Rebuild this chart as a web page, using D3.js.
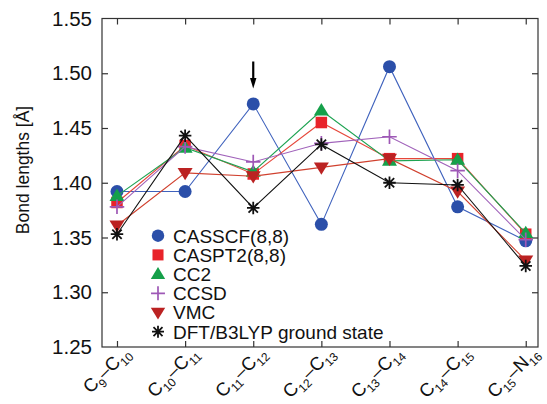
<!DOCTYPE html>
<html>
<head>
<meta charset="utf-8">
<script src="https://cdn.jsdelivr.net/npm/d3@7/dist/d3.min.js"></script>
<style>
  html, body { margin: 0; padding: 0; background: #fff; }
  svg { display: block; font-family: "Liberation Sans", Arial, Helvetica, sans-serif; }
</style>
</head>
<body>
<svg id="chart" width="547" height="404"></svg>
<script>
// Bond labels along the retinal chain
const bonds = ["C9–C10", "C10–C11", "C11–C12", "C12–C13", "C13–C14", "C14–C15", "C15–N16"];

// Bond lengths in Å per method
const casscf = [1.392, 1.392, 1.472, 1.362, 1.506, 1.378, 1.347];
const caspt2 = [1.382, 1.434, 1.408, 1.455, 1.422, 1.422, 1.353];
const cc2    = [1.388, 1.432, 1.410, 1.466, 1.420, 1.421, 1.354];
const ccsd   = [1.378, 1.433, 1.419, 1.436, 1.442, 1.411, 1.348];
const vmc    = [1.361, 1.409, 1.406, 1.414, 1.422, 1.392, 1.329];
const dft    = [1.353, 1.443, 1.377, 1.435, 1.400, 1.398, 1.324];

const methodNames = ["CASSCF(8,8)", "CASPT2(8,8)", "CC2", "CCSD", "VMC", "DFT/B3LYP ground state"];
const yTicks = [1.25, 1.30, 1.35, 1.40, 1.45, 1.50, 1.55];
const markedBond = 2; // bond flagged with the arrow

const series = [
  { name: methodNames[0], values: casscf, color: "#2b4fa9", line: "#3f62bd", shape: "circle" },
  { name: methodNames[1], values: caspt2, color: "#e8232a", line: "#e6473a", shape: "square" },
  { name: methodNames[2], values: cc2,    color: "#15a04a", line: "#1ea352", shape: "triUp" },
  { name: methodNames[3], values: ccsd,   color: "#9e58b6", line: "#a062ba", shape: "plus" },
  { name: methodNames[4], values: vmc,    color: "#bb2222", line: "#d0402e", shape: "triDown" },
  { name: methodNames[5], values: dft,    color: "#111111", line: "#111111", shape: "star" }
];

const svg = d3.select("#chart");
const plotL = 102, plotR = 538, plotT = 18.5, plotB = 347;

const x = d3.scaleLinear().domain([-0.22, 6.18]).range([plotL, plotR]);
const y = d3.scaleLinear().domain([1.25, 1.55]).range([plotB, plotT]);

const frameColor = "#333";

// Axes with inward ticks on all four sides
const gL = svg.append("g").attr("transform", `translate(${plotL},0)`)
  .call(d3.axisLeft(y).tickValues(yTicks).tickSize(-6).tickPadding(10).tickFormat(d3.format(".2f")));
const gR = svg.append("g").attr("transform", `translate(${plotR},0)`)
  .call(d3.axisRight(y).tickValues(yTicks.slice(1, -1)).tickSize(-6).tickFormat(""));
const gB = svg.append("g").attr("transform", `translate(0,${plotB})`)
  .call(d3.axisBottom(x).tickValues(d3.range(bonds.length)).tickSize(-6).tickFormat(""));
const gT = svg.append("g").attr("transform", `translate(0,${plotT})`)
  .call(d3.axisTop(x).tickValues(d3.range(bonds.length)).tickSize(-6).tickFormat(""));

gL.selectAll(".tick line").filter(d => d === 1.25 || d === 1.55).remove();
[gL, gR, gB, gT].forEach(g => {
  g.select(".domain").remove();
  g.selectAll(".tick line").attr("stroke", frameColor).attr("stroke-width", 1.2);
});
gL.selectAll(".tick text").attr("font-size", 20.5).attr("fill", "#111")
  .attr("font-family", "Liberation Sans, Arial, sans-serif");

svg.append("rect")
  .attr("x", plotL).attr("y", plotT)
  .attr("width", plotR - plotL).attr("height", plotB - plotT)
  .attr("fill", "none").attr("stroke", frameColor).attr("stroke-width", 1.2);

// Rotated bond labels with subscripted atom indices
const xLabels = svg.append("g");
bonds.forEach((lab, i) => {
  const holder = xLabels.append("g")
    .attr("transform", `translate(${x(i) + 14},${plotB + 7}) rotate(-45)`);
  const t = holder.append("text")
    .attr("x", 0).attr("y", 0)
    .attr("text-anchor", "end")
    .attr("font-size", 18.5)
    .attr("fill", "#111");
  const parts = lab.split("–");
  parts.forEach((atom, k) => {
    const m = atom.match(/^([A-Z])(\d+)$/);
    t.append("tspan").text(m[1]);
    t.append("tspan").attr("font-size", 12).attr("dy", 5).text(m[2]);
    if (k < parts.length - 1) {
      t.append("tspan").attr("dy", -5).text("–");
    }
  });
});

// Y axis title
svg.append("text")
  .attr("transform", `translate(29,170) rotate(-90)`)
  .attr("text-anchor", "middle")
  .attr("font-size", 17.5)
  .attr("fill", "#111")
  .text("Bond lengths [Å]");

// Marker drawing
function drawMarker(g, shape, color, size) {
  const s = size;
  if (shape === "circle") {
    g.append("circle").attr("r", s * 0.52).attr("fill", color);
  } else if (shape === "square") {
    g.append("rect").attr("x", -s * 0.46).attr("y", -s * 0.46)
      .attr("width", s * 0.92).attr("height", s * 0.92).attr("fill", color);
  } else if (shape === "triUp") {
    const h = s * 0.95;
    g.append("path").attr("d", `M0,${-h * 0.62}L${s * 0.6},${h * 0.42}L${-s * 0.6},${h * 0.42}Z`).attr("fill", color);
  } else if (shape === "triDown") {
    const h = s * 0.95;
    g.append("path").attr("d", `M0,${h * 0.62}L${s * 0.6},${-h * 0.42}L${-s * 0.6},${-h * 0.42}Z`).attr("fill", color);
  } else if (shape === "plus") {
    const r = s * 0.58;
    g.append("path").attr("d", `M${-r},0H${r}M0,${-r}V${r}`)
      .attr("stroke", color).attr("stroke-width", 1.7).attr("fill", "none");
  } else if (shape === "star") {
    const r = s * 0.5, d = r * 0.75;
    g.append("path").attr("d", `M${-r},0H${r}M0,${-r}V${r}M${-d},${-d}L${d},${d}M${-d},${d}L${d},${-d}`)
      .attr("stroke", color).attr("stroke-width", 1.8).attr("fill", "none");
  }
}

const line = d3.line().x((d, i) => x(i)).y(d => y(d));

series.forEach(s => {
  const g = svg.append("g");
  g.append("path").datum(s.values)
    .attr("d", line)
    .attr("fill", "none")
    .attr("stroke", s.line)
    .attr("stroke-width", 1.1);
  s.values.forEach((v, i) => {
    const m = g.append("g").attr("transform", `translate(${x(i)},${y(v)})`);
    drawMarker(m, s.shape, s.color, 12.5);
  });
});

// Arrow over the flagged bond
const ax = x(markedBond);
svg.append("line")
  .attr("x1", ax).attr("x2", ax)
  .attr("y1", 61.5).attr("y2", 80)
  .attr("stroke", "#000").attr("stroke-width", 2.2);
svg.append("path")
  .attr("d", `M${ax - 3.2},${78}L${ax + 3.2},${78}L${ax},${88.5}Z`)
  .attr("fill", "#000");

// Legend
const legend = svg.append("g");
series.forEach((s, i) => {
  const yy = 235.7 + i * 19.2;
  const m = legend.append("g").attr("transform", `translate(158,${yy})`);
  drawMarker(m, s.shape, s.color, 12);
  legend.append("text")
    .attr("x", 173).attr("y", yy)
    .attr("dy", "0.36em")
    .attr("font-size", 19)
    .attr("fill", "#111")
    .text(s.name);
});
</script>
</body>
</html>
